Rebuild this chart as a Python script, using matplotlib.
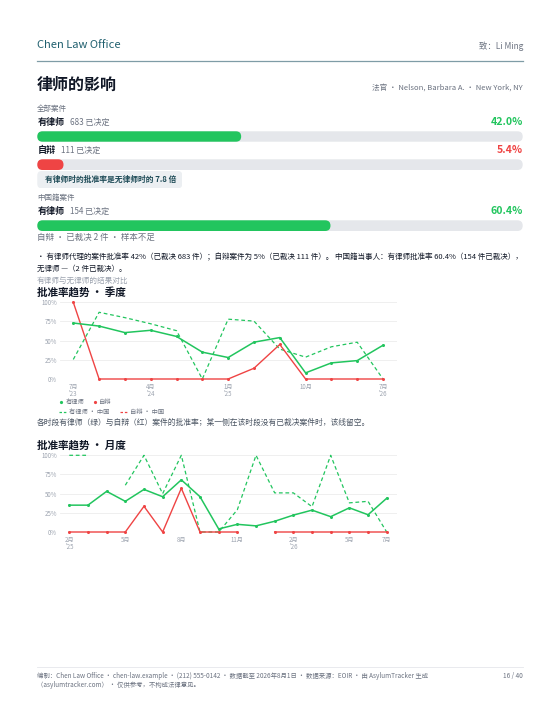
import numpy as np
import matplotlib
matplotlib.use("Agg")
import matplotlib.pyplot as plt
from matplotlib.patches import FancyBboxPatch
from matplotlib.lines import Line2D

plt.rcParams['font.family'] = ['Noto Sans CJK SC', 'DejaVu Sans']

# ---------------- data ----------------
bar_labels = ["有律师", "自辩", "有律师"]
bar_counts = ["683 已决定", "111 已决定", "154 已决定"]
bar_rates = [42.0, 5.4, 60.4]
bar_kinds = ["rep", "pro", "rep"]

q_labels = ["7月\n'23", "", "", "4月\n'24", "", "", "1月\n'25", "", "", "10月", "", "", "7月\n'26"]
q_rep = [73, 69, 60.5, 63.5, 55.5, 35, 28, 48, 54, 8, 21, 24, 44]
q_pro = [100, 0, 0, 0, 0, 0, 0, 14, 45, 0, 0, 0, 0]
q_rep_cn = [25.5, 87, 80, 72, 63, 0, 78, 75.5, 39, 28.5, 42, 48, 0]
q_pro_cn = [np.nan] * 13

m_labels = ["2月\n'25", "", "", "5月", "", "", "8月", "", "", "11月", "", "", "2月\n'26", "", "", "5月", "", "7月"]
m_rep = [35, 35, 53, 40, 55.5, 46, 68, 46, 4, 10, 8, 14, 22, 28.5, 20, 31.5, 22.5, 44]
m_pro = [0, 0, 0, 0, 33.5, 0, 57, 0, 0, 0, np.nan, 0, 0, 0, 0, 0, 0, 0]
m_rep_cn = [100, 100, np.nan, 61, 100, 50, 100, 0, 0, 29, 100, 51, 51, 33, 100, 38, 40, 0]
m_pro_cn = [np.nan] * 18

GREEN = "#22c55e"
RED = "#ef4444"
TRACK = "#e5e7eb"
GRAY = "#6b7280"
LGRAY = "#9ca3af"
TEAL = "#1f5f6e"
DARK = "#111827"

W, H = 560, 725
fig = plt.figure(figsize=(W / 100, H / 100), dpi=100)
fig.patch.set_facecolor("white")


def T(x, y, s, **kw):
    kw.setdefault("va", "center")
    kw.setdefault("ha", "left")
    return fig.text(x / W, 1 - y / H, s, **kw)


def axes_px(x0, y0, x1, y1, **kw):
    return fig.add_axes([x0 / W, 1 - y1 / H, (x1 - x0) / W, (y1 - y0) / H], **kw)


# ---------------- header ----------------
T(37, 45.5, "Chen Law Office", fontsize=8, color=TEAL)
T(523, 46, "致：Li Ming", fontsize=6, color=GRAY, ha="right")
fig.add_artist(Line2D([37 / W, 523 / W], [1 - 60.7 / H] * 2, color="#7f9ca6", lw=0.9))
T(37, 85, "律师的影响", fontsize=11.5, weight="bold", color=DARK)
T(523, 87.5, "法官 · Nelson, Barbara A. · New York, NY", fontsize=5.5, color=GRAY, ha="right")

# ---------------- bars ----------------
T(37, 109, "全部案件", fontsize=5.4, color=GRAY)
T(37, 198, "中国籍案件", fontsize=5.4, color=GRAY)

label_y = [122.5, 150.5, 211.7]
track_y = [(131.3, 141.7), (159.3, 170.0), (220.3, 231.0)]
count_x = [70, 60.7, 70]
x0, x1 = 37.3, 522.7
for lab, cnt, rate, kind, ly, (ty0, ty1), cx in zip(bar_labels, bar_counts, bar_rates, bar_kinds,
                                                      label_y, track_y, count_x):
    col = GREEN if kind == "rep" else RED
    T(x0, ly, lab, fontsize=6.5, weight="bold", color=DARK)
    T(cx, ly, cnt, fontsize=5.8, color=GRAY)
    T(x1, ly - 0.8, f"{rate:.1f}%", fontsize=7.6, weight="bold", color=col, ha="right")
    ax = axes_px(x0, ty0, x1, ty1)
    ax.set_xlim(0, 100)
    ax.set_ylim(0, 1)
    ax.axis("off")
    wpx = (x1 - x0) / 100.0
    hpx = ty1 - ty0
    r = (hpx / 2) / wpx
    asp = wpx / hpx
    ax.add_patch(FancyBboxPatch((0, 0), 100, 1, boxstyle=f"round,pad=0,rounding_size={r}",
                                mutation_aspect=asp, fc=TRACK, ec="none"))
    ax.add_patch(FancyBboxPatch((0, 0), rate, 1, boxstyle=f"round,pad=0,rounding_size={r}",
                                mutation_aspect=asp, fc=col, ec="none"))

# callout
axc = axes_px(37.3, 171, 182.3, 188.3)
axc.set_xlim(0, 1); axc.set_ylim(0, 1); axc.axis("off")
axc.add_patch(FancyBboxPatch((0, 0), 1, 1, boxstyle="round,pad=0,rounding_size=0.03",
                             mutation_aspect=145 / 17.3, fc="#eceff2", ec="none"))
T(45, 179.7, "有律师时的批准率是无律师时的 7.8 倍", fontsize=5.6, weight="bold", color="#1e4b57")

T(37, 237.5, "自辩 · 已裁决 2 件 · 样本不足", fontsize=6.1, color=GRAY)

# bullet text
T(37, 257, "• 有律师代理的案件批准率 42%（已裁决 683 件）；自辩案件为 5%（已裁决 111 件）。 中国籍当事人：有律师批准率 60.4%（154 件已裁决），",
  fontsize=5.45, color=DARK)
T(37, 269, "无律师 —（2 件已裁决）。", fontsize=5.45, color=DARK)
T(37, 280.5, "有律师与无律师的结果对比", fontsize=5.5, color=LGRAY)
T(37, 292.5, "批准率趋势 · 季度", fontsize=7.6, weight="bold", color=DARK)


def line_chart(ax, labels, rep, pro, rep_cn, pro_cn, xpad_l, xpad_r):
    n = len(rep)
    x = np.arange(n)
    ax.set_xlim(-xpad_l, n - 1 + xpad_r)
    ax.set_ylim(0, 100)
    for v in [0, 25, 50, 75, 100]:
        ax.axhline(v, color="#ececec", lw=0.6, zorder=0)
    ax.plot(x, rep_cn, color=GREEN, lw=0.9, ls=(0, (3, 2.2)), zorder=2, clip_on=False)
    ax.plot(x, pro_cn, color=RED, lw=0.9, ls=(0, (3, 2.2)), zorder=2, clip_on=False)
    ax.plot(x, pro, color=RED, lw=1.0, marker="o", ms=2.2, mew=0, zorder=3, clip_on=False)
    ax.plot(x, rep, color=GREEN, lw=1.1, marker="o", ms=2.2, mew=0, zorder=4, clip_on=False)
    ax.set_yticks([0, 25, 50, 75, 100])
    ax.set_yticklabels(["0%", "25%", "50%", "75%", "100%"])
    ticks = [i for i, l in enumerate(labels) if l]
    ax.set_xticks(ticks)
    ax.set_xticklabels([labels[i] for i in ticks], linespacing=1.0)
    ax.tick_params(axis="both", length=0, labelsize=4.4, labelcolor=LGRAY, pad=2)
    ax.tick_params(axis="x", pad=2.5)
    for s in ax.spines.values():
        s.set_visible(False)
    ax.set_facecolor("none")


axq = axes_px(60, 302.3, 397, 379)
line_chart(axq, q_labels, q_rep, q_pro, q_rep_cn, q_pro_cn, 13.3 / 25.83, 14 / 25.83)

h1 = [Line2D([], [], color=GREEN, marker="o", ls="none", ms=2.3, mew=0),
      Line2D([], [], color=RED, marker="o", ls="none", ms=2.3, mew=0)]
h2 = [Line2D([], [], color=GREEN, ls=(0, (2, 1.5)), lw=0.9),
      Line2D([], [], color=RED, ls=(0, (2, 1.5)), lw=0.9)]
lg1 = fig.legend(h1, ["有律师", "自辩"], loc="center left", bbox_to_anchor=(56 / W, 1 - 401.7 / H),
                 ncol=2, frameon=False, fontsize=4.5, handlelength=0.6, handletextpad=0.4,
                 columnspacing=1.4, borderpad=0, labelcolor=GRAY)
lg2 = fig.legend(h2, ["有律师 · 中国", "自辩 · 中国"], loc="center left",
                 bbox_to_anchor=(56 / W, 1 - 412.3 / H), ncol=2, frameon=False, fontsize=4.5,
                 handlelength=1.2, handletextpad=0.4, columnspacing=1.6, borderpad=0,
                 labelcolor=GRAY)

T(37, 422.3, "各时段有律师（绿）与自辩（红）案件的批准率；某一侧在该时段没有已裁决案件时，该线留空。",
  fontsize=5.6, color="#4b5563")

T(37, 446, "批准率趋势 · 月度", fontsize=7.6, weight="bold", color=DARK)
axm = axes_px(60, 455.3, 397, 532)
line_chart(axm, m_labels, m_rep, m_pro, m_rep_cn, m_pro_cn, 9.3 / 18.69, 10.3 / 18.69)

# ---------------- footer ----------------
fig.add_artist(Line2D([37 / W, 523 / W], [1 - 666.7 / H] * 2, color="#e5e7eb", lw=0.6))
T(37, 676, "编制：Chen Law Office · chen-law.example · (212) 555-0142 · 数据截至 2026年8月1日 · 数据来源：EOIR · 由 AsylumTracker 生成",
  fontsize=4.6, color=GRAY)
T(37, 685, "（asylumtracker.com） · 仅供参考，不构成法律意见。", fontsize=4.6, color=GRAY)
T(523, 676, "16 / 40", fontsize=4.6, color=GRAY, ha="right")

fig.savefig("out.png", dpi=100, facecolor="white")
